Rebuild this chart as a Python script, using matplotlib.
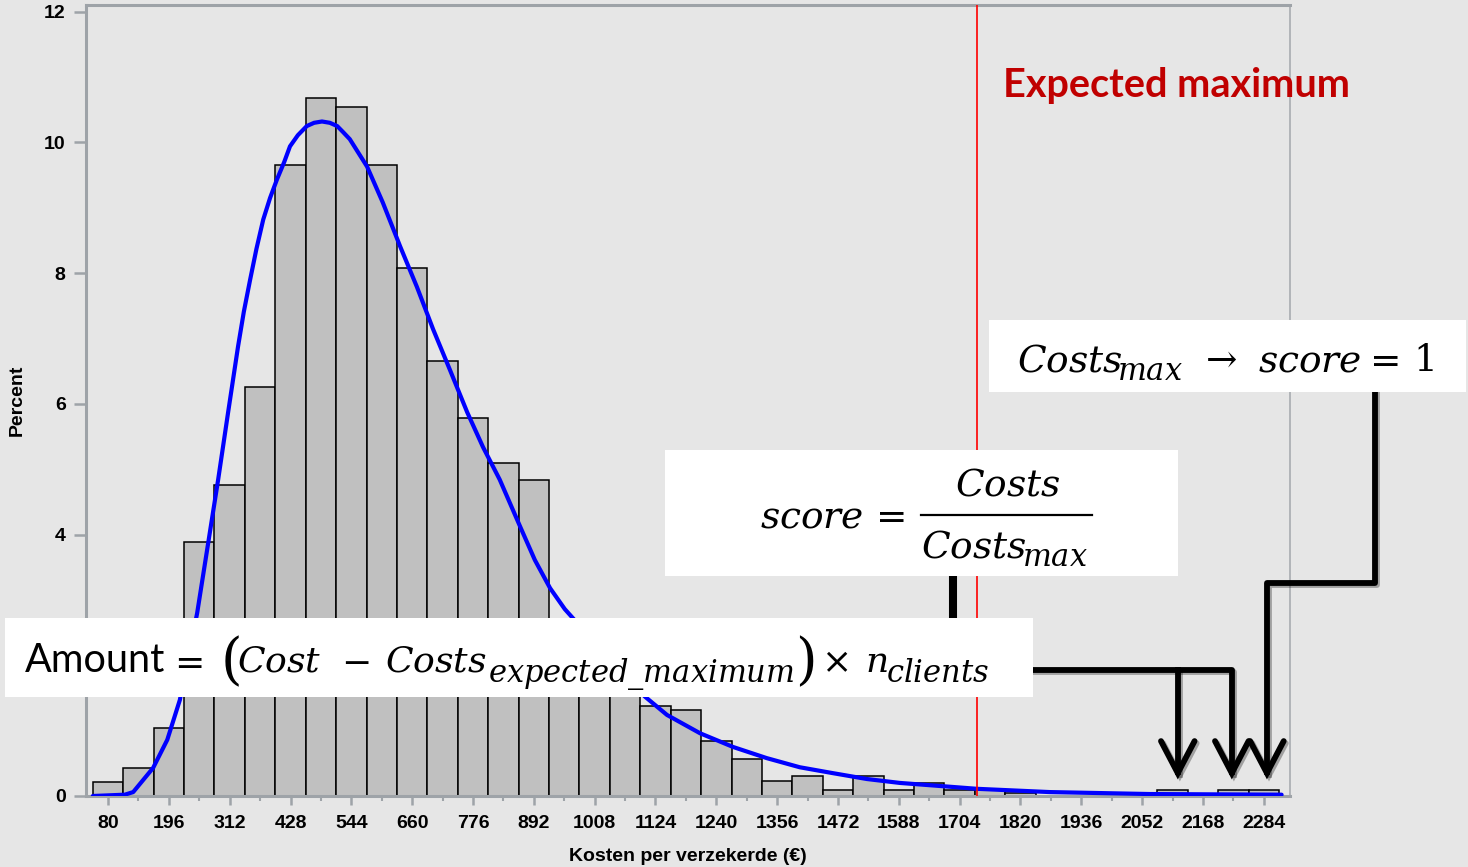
import matplotlib
matplotlib.use("Agg")
import matplotlib.pyplot as plt
from matplotlib.patches import Rectangle
from matplotlib.lines import Line2D
from matplotlib.ticker import FixedLocator
import matplotlib.patheffects as pe

# ---------------- data ----------------
bin_centers = [80, 138, 196, 254, 312, 370, 428, 486, 544, 602, 660, 718, 776,
               834, 892, 950, 1008, 1066, 1124, 1182, 1240, 1298, 1356, 1414,
               1472, 1530, 1588, 1646, 1704, 1762, 1820, 1878, 1936, 1994, 2052,
               2110, 2168, 2226, 2284]
percent = [0.22, 0.43, 1.04, 3.88, 4.76, 6.26, 9.66, 10.68, 10.54, 9.66, 8.08,
           6.66, 5.78, 5.10, 4.84, 2.65, 2.25, 1.85, 1.38, 1.32, 0.84, 0.57,
           0.23, 0.30, 0.09, 0.30, 0.09, 0.20, 0.09, 0.10, 0.04, 0, 0, 0, 0,
           0.09, 0, 0.09, 0.09]
bin_width = 58

curve_x = [51, 112, 128, 166, 193, 217, 250, 271, 290, 309, 328, 339, 351,
           363, 376, 389, 402, 416, 427, 442, 459, 473, 488, 503, 517, 528,
           541, 574, 604, 637, 669, 700, 732, 765, 795, 827, 866, 894, 923,
           951, 980, 1037, 1104, 1146, 1209, 1272, 1336, 1399, 1462, 1527,
           1590, 1737, 1876, 2067, 2318]
curve_y = [0.0, 0.02, 0.06, 0.43, 0.86, 1.47, 2.80, 3.87, 4.84, 5.87, 6.88,
           7.41, 7.90, 8.37, 8.82, 9.15, 9.43, 9.70, 9.94, 10.11, 10.25, 10.30,
           10.32, 10.30, 10.25, 10.16, 10.05, 9.63, 9.08, 8.41, 7.79, 7.14,
           6.52, 5.87, 5.34, 4.84, 4.12, 3.61, 3.18, 2.86, 2.60, 2.08, 1.52,
           1.24, 0.96, 0.75, 0.58, 0.44, 0.35, 0.26, 0.20, 0.11, 0.06, 0.03,
           0.02]

xtick_values = [80, 196, 312, 428, 544, 660, 776, 892, 1008, 1124, 1240, 1356,
                1472, 1588, 1704, 1820, 1936, 2052, 2168, 2284]
xtick_labels = [str(v) for v in xtick_values]
ytick_values = [0, 2, 4, 6, 8, 10, 12]
ytick_labels = ["0", "2", "4", "6", "8", "10", "12"]

expected_max = 1737
arrow_targets = [2120, 2223, 2290]

x_label = "Kosten per verzekerde (€)"
y_label = "Percent"
expected_label = "Expected maximum"

# ---------------- style ----------------
plt.rcParams["mathtext.fontset"] = "custom"
plt.rcParams["mathtext.it"] = "DejaVu Serif:italic"
plt.rcParams["mathtext.rm"] = "DejaVu Serif"
plt.rcParams["mathtext.cal"] = "DejaVu Serif:italic"

W, H = 1468, 867
BG = "#e6e6e6"
SPINE = "#9ea3a8"

fig = plt.figure(figsize=(W / 100, H / 100), dpi=100, facecolor=BG)
ax = fig.add_axes([86 / W, 71 / H, 1204 / W, 791.5 / H], facecolor=BG)

xs = [c for c, p in zip(bin_centers, percent) if p > 0]
hs = [p for p in percent if p > 0]
ax.bar(xs, hs, width=bin_width, color="#c0c0c0", edgecolor="black",
       linewidth=1.1, zorder=2)
ax.plot(curve_x, curve_y, color="#0000ff", lw=3.0, zorder=3,
        solid_capstyle="round", solid_joinstyle="round")
ax.axvline(expected_max, color="#ff0000", lw=1.2, zorder=4)

ax.set_xlim(38, 2334)
ax.set_ylim(0, 12.11)

ax.xaxis.set_major_locator(FixedLocator(xtick_values))
ax.set_xticklabels(xtick_labels)
ax.xaxis.set_minor_locator(FixedLocator(bin_centers))
ax.yaxis.set_major_locator(FixedLocator(ytick_values))
ax.set_yticklabels(ytick_labels)

for lab in ax.get_xticklabels() + ax.get_yticklabels():
    lab.set_fontfamily("Liberation Sans")
    lab.set_fontweight("bold")
    lab.set_fontsize(14)
# the "2" label lies under the formula box (hidden in the reference as well)
ax.get_yticklabels()[1].set_visible(False)

ax.tick_params(axis="x", which="major", length=6.5, width=1.8, color=SPINE,
               pad=7, direction="out")
ax.tick_params(axis="x", which="minor", length=3.5, width=1.5, color=SPINE,
               direction="out")
ax.tick_params(axis="y", which="major", length=8.6, width=1.8, color=SPINE,
               pad=6, direction="out")

for side in ["left", "top", "bottom"]:
    ax.spines[side].set_color(SPINE)
    ax.spines[side].set_linewidth(2.2)
ax.spines["right"].set_color("#a8acb0")
ax.spines["right"].set_linewidth(1.2)

ax.set_xlabel(x_label, fontfamily="Liberation Sans", fontweight="bold",
              fontsize=14, labelpad=12)
ax.set_ylabel(y_label, fontfamily="Liberation Sans", fontweight="bold",
              fontsize=14, labelpad=13)

ax.text(1786, 10.69, expected_label, color="#c00000", fontfamily="Lato",
        fontweight="bold", fontsize=28.5, va="baseline", ha="left",
        clip_on=False, zorder=6)

# ---------------- connectors ----------------
shadow = [pe.SimpleLineShadow(offset=(1.5, -1.5), alpha=0.3), pe.Normal()]
lw_c = 4.2
ax.plot([1843, 2223, 2223], [1.93, 1.93, 0.36], color="black", lw=lw_c,
        clip_on=False, zorder=5, solid_joinstyle="round", path_effects=shadow)
ax.plot([2120, 2120], [1.93, 0.36], color="black", lw=lw_c, clip_on=False,
        zorder=5, path_effects=shadow)
ax.plot([2496, 2496, 2290, 2290], [6.18, 3.26, 3.26, 0.36], color="black",
        lw=lw_c, clip_on=False, zorder=5, solid_joinstyle="round",
        path_effects=shadow)
ax.plot([1691, 1691], [3.37, 2.72], color="black", lw=5.8, clip_on=False,
        zorder=5)
for xt in arrow_targets:
    ax.plot([xt - 32, xt, xt + 32], [0.84, 0.35, 0.84], color="black", lw=lw_c,
            clip_on=False, zorder=5, solid_joinstyle="miter",
            solid_capstyle="round", path_effects=shadow)

# ---------------- formula boxes ----------------
def fx(px):
    return px / W


def fy(py):
    return 1 - py / H


for (x0, y0, x1, y1) in [(5, 618, 1033, 697), (665, 450, 1178, 576),
                         (989, 320, 1466, 392)]:
    fig.add_artist(Rectangle((fx(x0), fy(y1)), fx(x1) - fx(x0), fy(y0) - fy(y1),
                             transform=fig.transFigure, facecolor="white",
                             edgecolor="none", zorder=10))


def put(px, py, s, size, family=None, va="baseline", ha="left"):
    kw = dict(fontsize=size, va=va, ha=ha, zorder=11)
    if family:
        kw["fontfamily"] = family
    fig.text(fx(px), fy(py), s, **kw)


MAIN, SUB = 26, 22
# Amount = (Cost - Costs_expected_maximum) x n_clients
put(25, 672, "Amount", 28.5, family="Lato")
put(168, 672, r"$=$", MAIN)
put(220, 678, r"$($", 40)
put(237, 672, r"$Cost$", MAIN)
put(341, 672, r"$-$", MAIN)
put(385, 672, r"$Costs$", MAIN)
put(488, 682, r"$expected\_maximum$", SUB)
put(795, 678, r"$)$", 40)
put(821, 672, r"$\times$", MAIN)
put(865, 672, r"$n$", MAIN)
put(886, 682, r"$clients$", SUB)

# score = Costs / Costs_max
put(760, 527, r"$score$", 27)
put(868, 527, r"$=$", 27)
fig.add_artist(Line2D([fx(921), fx(1092)], [fy(515), fy(515)],
                      transform=fig.transFigure, color="black", lw=1.6,
                      zorder=11))
put(955, 496, r"$Costs$", 27)
put(921, 557, r"$Costs$", 27)
put(1022, 566, r"$max$", SUB)

# Costs_max -> score = 1
put(1017, 371, r"$Costs$", 27)
put(1117, 380, r"$max$", SUB)
put(1198, 371, r"$\rightarrow$", 27)
put(1258, 371, r"$score$", 27)
put(1362, 371, r"$=$", 27)
put(1413, 371, r"$1$", 27)

fig.savefig("out.png", dpi=100, facecolor=BG)
